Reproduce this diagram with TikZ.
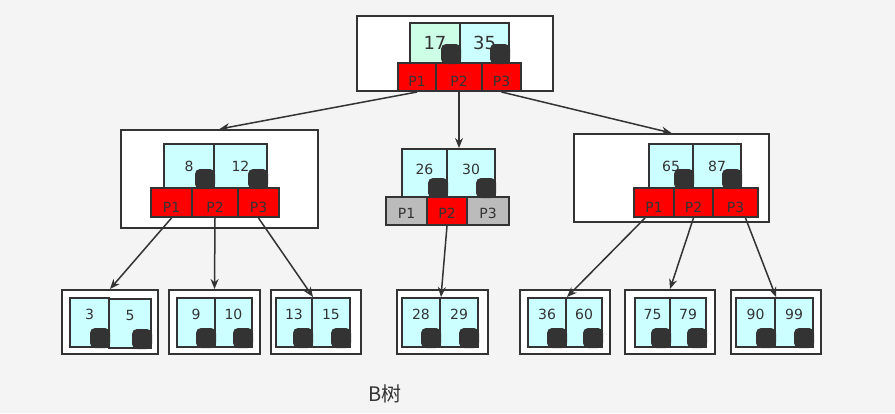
\documentclass[tikz,border=0pt]{standalone}
\usepackage{fontspec}
\setmainfont{DejaVu Sans}
\newfontfamily\cjk{Noto Sans CJK SC}
\usetikzlibrary{arrows.meta,positioning}
\definecolor{ink}{HTML}{333333}
\definecolor{bg}{HTML}{F4F4F4}
\definecolor{cyanfill}{HTML}{CCFFFF}
\definecolor{mintfill}{HTML}{CCFFE6}
\definecolor{greyfill}{HTML}{BBBBBB}
\tikzset{
  box/.style={draw=ink, fill=white, line width=2pt, inner sep=0pt},
  key/.style={draw=ink, fill=cyanfill, line width=2pt, inner sep=0pt, text=ink,
    font=\fontsize{14}{14}\selectfont},
  rootkey/.style={key, font=\fontsize{18}{18}\selectfont},
  midkey/.style={key, text depth=8pt},
  leafkey/.style={key, text depth=16pt},
  ptr/.style={draw=ink, fill=red, line width=2pt, inner sep=0pt, text=ink,
    font=\fontsize{14}{14}\selectfont, text height=20pt, text depth=0pt},
  knob/.style={fill=ink, rounded corners=5pt},
  link/.style={draw=ink, line width=1.5pt, -{Stealth[length=10pt,width=8pt]}}
}
\begin{document}
\begin{tikzpicture}[x=1pt,y=-1pt]
  \fill[bg] (0,0) rectangle (895,413);
  % root
  \node[box, minimum width=196, minimum height=75] (rootbox) at (455,53.5) {};
  \node[rootkey, fill=mintfill, minimum width=50, minimum height=40] (k17) at (435,43) {17};
  \node[rootkey, minimum width=49, minimum height=40] (k35) at (484.5,43) {35};
  \node[ptr, text height=18pt, minimum width=38, minimum height=28] (rootp1) at (417,77) {P1};
  \node[ptr, text height=18pt, minimum width=46, minimum height=28] (rootp2) at (459,77) {P2};
  \node[ptr, text height=18pt, minimum width=39, minimum height=28] (rootp3) at (501.5,77) {P3};
  % left inner node
  \node[box, minimum width=197, minimum height=98] (leftbox) at (219.5,179) {};
  \node[key, minimum width=50, minimum height=44] (k8) at (189,166) {8};
  \node[key, minimum width=53, minimum height=44] (k12) at (240.5,166) {12};
  \node[ptr, minimum width=41, minimum height=29] (leftp1) at (171.5,202.5) {P1};
  \node[ptr, minimum width=46, minimum height=29] (leftp2) at (215,202.5) {P2};
  \node[ptr, minimum width=41, minimum height=29] (leftp3) at (258.5,202.5) {P3};
  % middle inner node
  \node[midkey, minimum width=45, minimum height=48] (k26) at (424.5,173) {26};
  \node[midkey, minimum width=48, minimum height=48] (k30) at (471,173) {30};
  \node[ptr, fill=greyfill, text height=14pt, minimum width=41, minimum height=28] (midp1) at (406.5,211) {P1};
  \node[ptr, text height=14pt, minimum width=40, minimum height=28] (midp2) at (447,211) {P2};
  \node[ptr, fill=greyfill, text height=14pt, minimum width=42, minimum height=28] (midp3) at (488,211) {P3};
  % right inner node
  \node[box, minimum width=195, minimum height=88] (rightbox) at (671.5,178) {};
  \node[key, minimum width=44, minimum height=44] (k65) at (671,166) {65};
  \node[key, minimum width=48, minimum height=44] (k87) at (717,166) {87};
  \node[ptr, minimum width=40, minimum height=29] (rightp1) at (654,202.5) {P1};
  \node[ptr, minimum width=39, minimum height=29] (rightp2) at (693.5,202.5) {P2};
  \node[ptr, minimum width=45, minimum height=29] (rightp3) at (735.5,202.5) {P3};
  % leaves
  \node[box, minimum width=96, minimum height=64] (leaf1) at (110,322) {};
  \node[leafkey, minimum width=39, minimum height=49] (k3) at (89.5,322.5) {3};
  \node[leafkey, minimum width=42, minimum height=49] (k5) at (130,323.5) {5};
  \node[box, minimum width=91, minimum height=64] (leaf2) at (214.5,322) {};
  \node[leafkey, minimum width=38, minimum height=49] (k9) at (196,322.5) {9};
  \node[leafkey, minimum width=37, minimum height=49] (k10) at (233.5,322.5) {10};
  \node[box, minimum width=90, minimum height=64] (leaf3) at (316,322) {};
  \node[leafkey, minimum width=36, minimum height=49] (k13) at (294,322.5) {13};
  \node[leafkey, minimum width=38, minimum height=49] (k15) at (331,322.5) {15};
  \node[box, minimum width=91, minimum height=64] (leaf4) at (442.5,322) {};
  \node[leafkey, minimum width=38, minimum height=49] (k28) at (421,322.5) {28};
  \node[leafkey, minimum width=38, minimum height=49] (k29) at (459,322.5) {29};
  \node[box, minimum width=90, minimum height=64] (leaf5) at (565,322) {};
  \node[leafkey, minimum width=38, minimum height=49] (k36) at (547,322.5) {36};
  \node[leafkey, minimum width=36, minimum height=49] (k60) at (584,322.5) {60};
  \node[box, minimum width=90, minimum height=64] (leaf6) at (670,322) {};
  \node[leafkey, minimum width=35, minimum height=49] (k75) at (652.5,322.5) {75};
  \node[leafkey, minimum width=36, minimum height=49] (k79) at (688,322.5) {79};
  \node[box, minimum width=90, minimum height=64] (leaf7) at (776,322) {};
  \node[leafkey, minimum width=39, minimum height=49] (k90) at (755.5,322.5) {90};
  \node[leafkey, minimum width=38, minimum height=49] (k99) at (794,322.5) {99};
  % pointer knobs
  \foreach \k in {k17,k35,k8,k12,k26,k30,k65,k87,k3,k5,k9,k10,k13,k15,k28,k29,k36,k60,k75,k79,k90,k99}
    \fill[knob] (\k.south east) rectangle +(-20,-20);
  % links
  \draw[link] (rootp1.south) -- (leftbox.north);
  \draw[link] (rootp2.south) -- (rootp2.south |- k26.north);
  \draw[link] (rootp3.south) -- (rightbox.north);
  \draw[link] (leftp1.south) -- (leaf1.north);
  \draw[link] (leftp2.south) -- (leaf2.north);
  \draw[link] (leftp3.south) -- (k13.north east);
  \draw[link] (midp2.south) -- (k28.north east);
  \draw[link] ([xshift=-9pt]rightp1.south) -- (k36.north east);
  \draw[link] (rightp2.south) -- (leaf6.north);
  \draw[link] ([xshift=10pt]rightp3.south) -- (k90.north east);
  \node[text=ink, font=\cjk\fontsize{20}{20}\selectfont] (title) at (385,394) {B树};
\end{tikzpicture}
\end{document}
